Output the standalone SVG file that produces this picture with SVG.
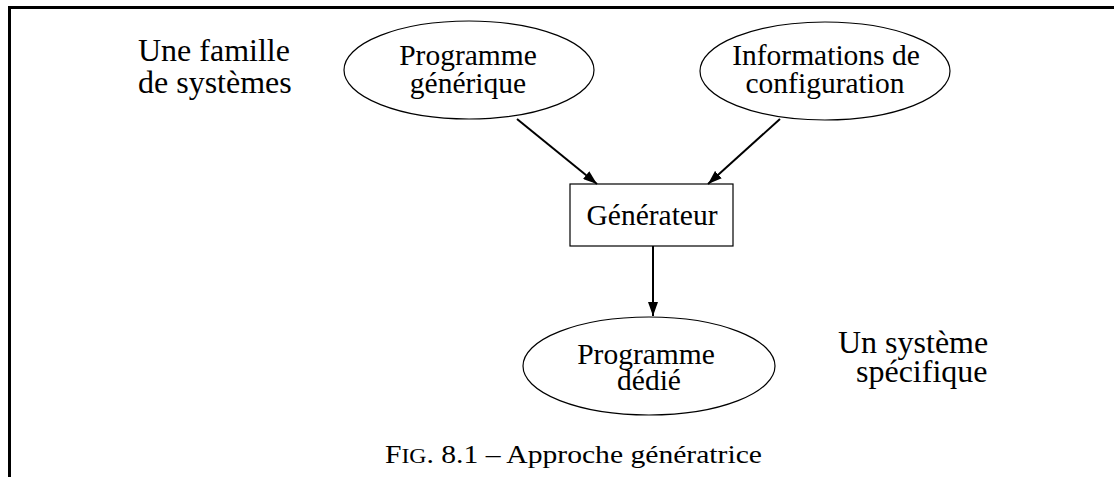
<svg xmlns="http://www.w3.org/2000/svg" width="1114" height="477" viewBox="0 0 1114 477">
  <style>
    .node { fill: #ffffff; stroke: #000000; stroke-width: 1.2; }
    .lbl { font-family: 'Liberation Serif', 'Times New Roman', Times, serif; font-size: 29.5px; fill: #000000; text-anchor: middle; }
    .side { font-family: 'Liberation Serif', 'Times New Roman', Times, serif; font-size: 32px; fill: #000000; }
    .cap { font-family: 'Liberation Serif', 'Times New Roman', Times, serif; font-size: 25px; fill: #000000; }
    .edge { stroke: #000000; stroke-width: 2; fill: none; marker-end: url(#arrow); }
    .frame { stroke: #000000; stroke-width: 3; fill: none; }
  </style>
  <defs>
    <marker id="arrow" viewBox="0 0 14 10" refX="14" refY="5" markerWidth="14" markerHeight="10" markerUnits="userSpaceOnUse" orient="auto">
      <path d="M0,0 L14,5 L0,10 Z" fill="#000000"/>
    </marker>
  </defs>
  <rect x="0" y="0" width="1114" height="477" fill="#ffffff"/>
  <path class="frame" d="M9.5,477 L9.5,7.5 L1114,7.5"/>

  <g id="label-famille">
    <text class="side" x="138" y="61">Une famille</text>
    <text class="side" x="138" y="93">de systèmes</text>
  </g>
  <g id="label-specifique">
    <text class="side" x="838" y="353">Un système</text>
    <text class="side" x="856" y="382">spécifique</text>
  </g>

  <g id="node-programme-generique">
    <ellipse class="node" cx="469" cy="70" rx="125" ry="49"/>
    <text class="lbl" x="468" y="65">Programme</text>
    <text class="lbl" x="468" y="93">générique</text>
  </g>
  <g id="node-informations">
    <ellipse class="node" cx="825" cy="71" rx="125" ry="49"/>
    <text class="lbl" x="826" y="65">Informations de</text>
    <text class="lbl" x="825" y="93">configuration</text>
  </g>
  <g id="node-generateur">
    <rect class="node" x="570" y="184" width="163" height="62"/>
    <text class="lbl" x="652" y="225">Générateur</text>
  </g>
  <g id="node-programme-dedie">
    <ellipse class="node" cx="649" cy="366" rx="126" ry="49"/>
    <text class="lbl" x="646" y="364">Programme</text>
    <text class="lbl" x="649" y="390">dédié</text>
  </g>

  <g id="connectors">
    <line class="edge" x1="517" y1="119" x2="597" y2="184"/>
    <line class="edge" x1="780" y1="119" x2="708" y2="184"/>
    <line class="edge" x1="653" y1="246" x2="653" y2="316"/>
  </g>

  <g id="caption">
    <text class="cap" x="385" y="463" textLength="377" lengthAdjust="spacingAndGlyphs">F<tspan font-size="20">IG</tspan>. 8.1 – Approche génératrice</text>
  </g>
</svg>
